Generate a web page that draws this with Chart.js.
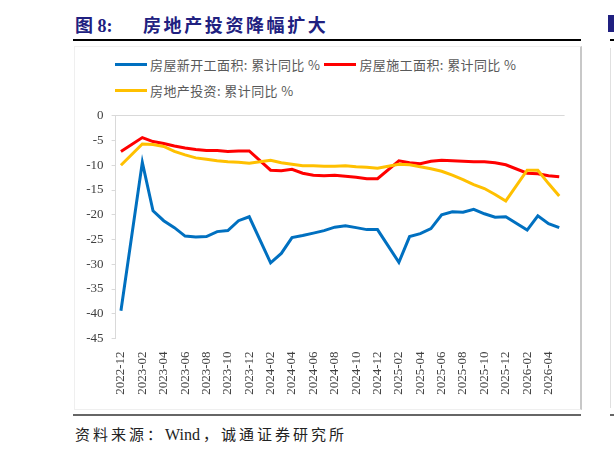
<!DOCTYPE html>
<html>
<head>
<meta charset="utf-8">
<script src="https://cdn.jsdelivr.net/npm/chart.js@4.4.0/dist/chart.umd.min.js"></script>
<style>
  body { margin: 0; background: #fff; }
  #page { position: relative; width: 614px; height: 454px; overflow: hidden; background: #fff; }
  .abs { position: absolute; }
  #titleNo, #titleText { top: 11px; color: #202080; font-weight: bold; font-size: 18px; white-space: nowrap;
    font-family: "Liberation Serif", "Noto Sans CJK SC", serif; }
  #titleNo { left: 75px; }
  #titleText { left: 143px; letter-spacing: 2.6px; font-family: "Noto Sans CJK SC", sans-serif; }
  #legend { left: 115px; top: 54px; width: 430px; display: flex; flex-wrap: wrap; row-gap: 6px;
    font-family: "Noto Sans CJK SC", sans-serif; font-size: 13px; color: #595959; letter-spacing: 0.4px; }
  .item { display: flex; align-items: center; margin-right: 4px; height: 20px; white-space: nowrap; }
  .swatch { width: 32px; height: 3px; margin-right: 3px; }
  #source { left: 75px; top: 423px; font-size: 15px; color: #222; letter-spacing: 3px; white-space: nowrap;
    font-family: "Liberation Serif", "Noto Sans CJK SC", serif; }
  #source .latin { letter-spacing: 0; font-size: 16px; margin-right: 3px; }
</style>
</head>
<body>
<div id="page">
  <div class="abs" id="titleNo">图 8:</div>
  <div class="abs" id="titleText">房地产投资降幅扩大</div>
  <div class="abs" style="left:73px;top:39px;width:508px;height:2px;background:#000;"></div>
  <!-- chart frame -->
  <div class="abs" style="left:74px;top:46px;width:505px;height:362px;border:1px solid #efefef;border-right:2px solid #c8c8c8;"></div>
  <div class="abs" id="legend"></div>
  <canvas class="abs" id="chart" width="520" height="300" style="left:60px;top:100px;"></canvas>
  <div class="abs" style="left:73px;top:414px;width:508px;height:2px;background:#666;"></div>
  <div class="abs" id="source">资料来源：<span class="latin">Wind</span>，诚通证券研究所</div>
  <!-- edge of the next figure -->
  <div class="abs" style="left:608px;top:15px;width:6px;height:17px;background:#202080;"></div>
  <div class="abs" style="left:610px;top:39px;width:4px;height:2px;background:#000;"></div>
  <div class="abs" style="left:610px;top:48px;width:1px;height:360px;background:#e0e0e0;"></div>
  <div class="abs" style="left:610px;top:414px;width:4px;height:2px;background:#666;"></div>
</div>
<script>
// months on the axis, January is missing in the source data (Jan-Feb reported together)
const months = [
    '2022-12', '2023-01', '2023-02', '2023-03', '2023-04', '2023-05', '2023-06', '2023-07',
    '2023-08', '2023-09', '2023-10', '2023-11', '2023-12', '2024-01', '2024-02', '2024-03',
    '2024-04', '2024-05', '2024-06', '2024-07', '2024-08', '2024-09', '2024-10', '2024-11',
    '2024-12', '2025-01', '2025-02', '2025-03', '2025-04', '2025-05', '2025-06', '2025-07',
    '2025-08', '2025-09', '2025-10', '2025-11', '2025-12', '2026-01', '2026-02', '2026-03',
    '2026-04', '2026-05'
];

// 房屋新开工面积: 累计同比 %
const newStarts = [
    -39.4, null, -9.4, -19.2, -21.2, -22.6, -24.3, -24.5,
    -24.4, -23.4, -23.2, -21.2, -20.4, null, -29.7, -27.8,
    -24.6, -24.2, -23.7, -23.2, -22.5, -22.2, -22.6, -23.0,
    -23.0, null, -29.6, -24.4, -23.8, -22.8, -20.0, -19.4,
    -19.5, -18.9, -19.8, -20.5, -20.4, null, -23.1, -20.2,
    -21.8, -22.6
];

// 房屋施工面积: 累计同比 %
const underConstruction = [
    -7.2, null, -4.4, -5.2, -5.6, -6.1, -6.5, -6.8,
    -7.0, -7.0, -7.2, -7.1, -7.1, null, -11.0, -11.1,
    -10.8, -11.6, -12.0, -12.1, -12.0, -12.2, -12.4, -12.7,
    -12.7, null, -9.1, -9.5, -9.7, -9.2, -9.0, -9.1,
    -9.2, -9.3, -9.3, -9.5, -9.9, null, -11.6, -11.7,
    -12.1, -12.3
];

// 房地产投资: 累计同比 %
const investment = [
    -10.0, null, -5.7, -5.8, -6.2, -7.2, -7.9, -8.5,
    -8.8, -9.1, -9.3, -9.4, -9.6, null, -9.0, -9.5,
    -9.8, -10.1, -10.1, -10.2, -10.2, -10.1, -10.3, -10.4,
    -10.6, null, -9.8, -9.9, -10.3, -10.7, -11.2, -12.0,
    -12.9, -13.9, -14.7, -15.9, -17.2, null, -11.0, -11.0,
    -13.7, -16.2
];

const seriesNames = ['房屋新开工面积: 累计同比 %', '房屋施工面积: 累计同比 %', '房地产投资: 累计同比 %'];
const seriesColors = ['#0070C0', '#FF0000', '#FFC000'];
const seriesData = [newStarts, underConstruction, investment];

const yMin = -45, yMax = 0, yStep = 5;

// legend
const legendBox = document.getElementById('legend');
seriesNames.forEach(function (name, i) {
    const item = document.createElement('div');
    item.className = 'item';
    item.innerHTML = '<span class="swatch" style="background:' + seriesColors[i] + '"></span><span>' + name + '</span>';
    legendBox.appendChild(item);
});

const axisFont = { family: 'Liberation Serif', size: 13 };

const datasets = seriesData.map(function (values, i) {
    return {
        label: seriesNames[i],
        data: values,
        borderColor: seriesColors[i],
        backgroundColor: seriesColors[i],
        borderWidth: 3,
        pointRadius: 0,
        tension: 0,
        spanGaps: true,
        order: 3 - i // later series on top, like the original
    };
});

new Chart(document.getElementById('chart'), {
    type: 'line',
    data: { labels: months, datasets: datasets },
    options: {
        responsive: false,
        animation: false,
        layout: { padding: { top: 14, right: 14, bottom: 0, left: 0 } },
        plugins: { legend: { display: false }, tooltip: { enabled: false } },
        scales: {
            x: {
                offset: true,
                grid: { display: false },
                border: { display: false },
                ticks: {
                    autoSkip: false,
                    maxRotation: 90,
                    minRotation: 90,
                    padding: 5,
                    color: '#404040',
                    font: axisFont,
                    callback: function (v, i) { return i % 2 === 0 ? this.getLabelForValue(v) : ''; }
                },
                afterFit: function (s) { s.height = 61.5; }
            },
            y: {
                min: yMin,
                max: yMax,
                ticks: { stepSize: yStep, padding: 8, color: '#404040', font: axisFont },
                grid: {
                    color: function (c) { return c.tick && c.tick.value === 0 ? '#d9d9d9' : 'rgba(0,0,0,0)'; },
                    tickColor: '#d9d9d9',
                    tickLength: 4
                },
                border: { color: '#d9d9d9' },
                afterFit: function (s) { s.width = 55.6; }
            }
        }
    }
});
</script>
</body>
</html>
